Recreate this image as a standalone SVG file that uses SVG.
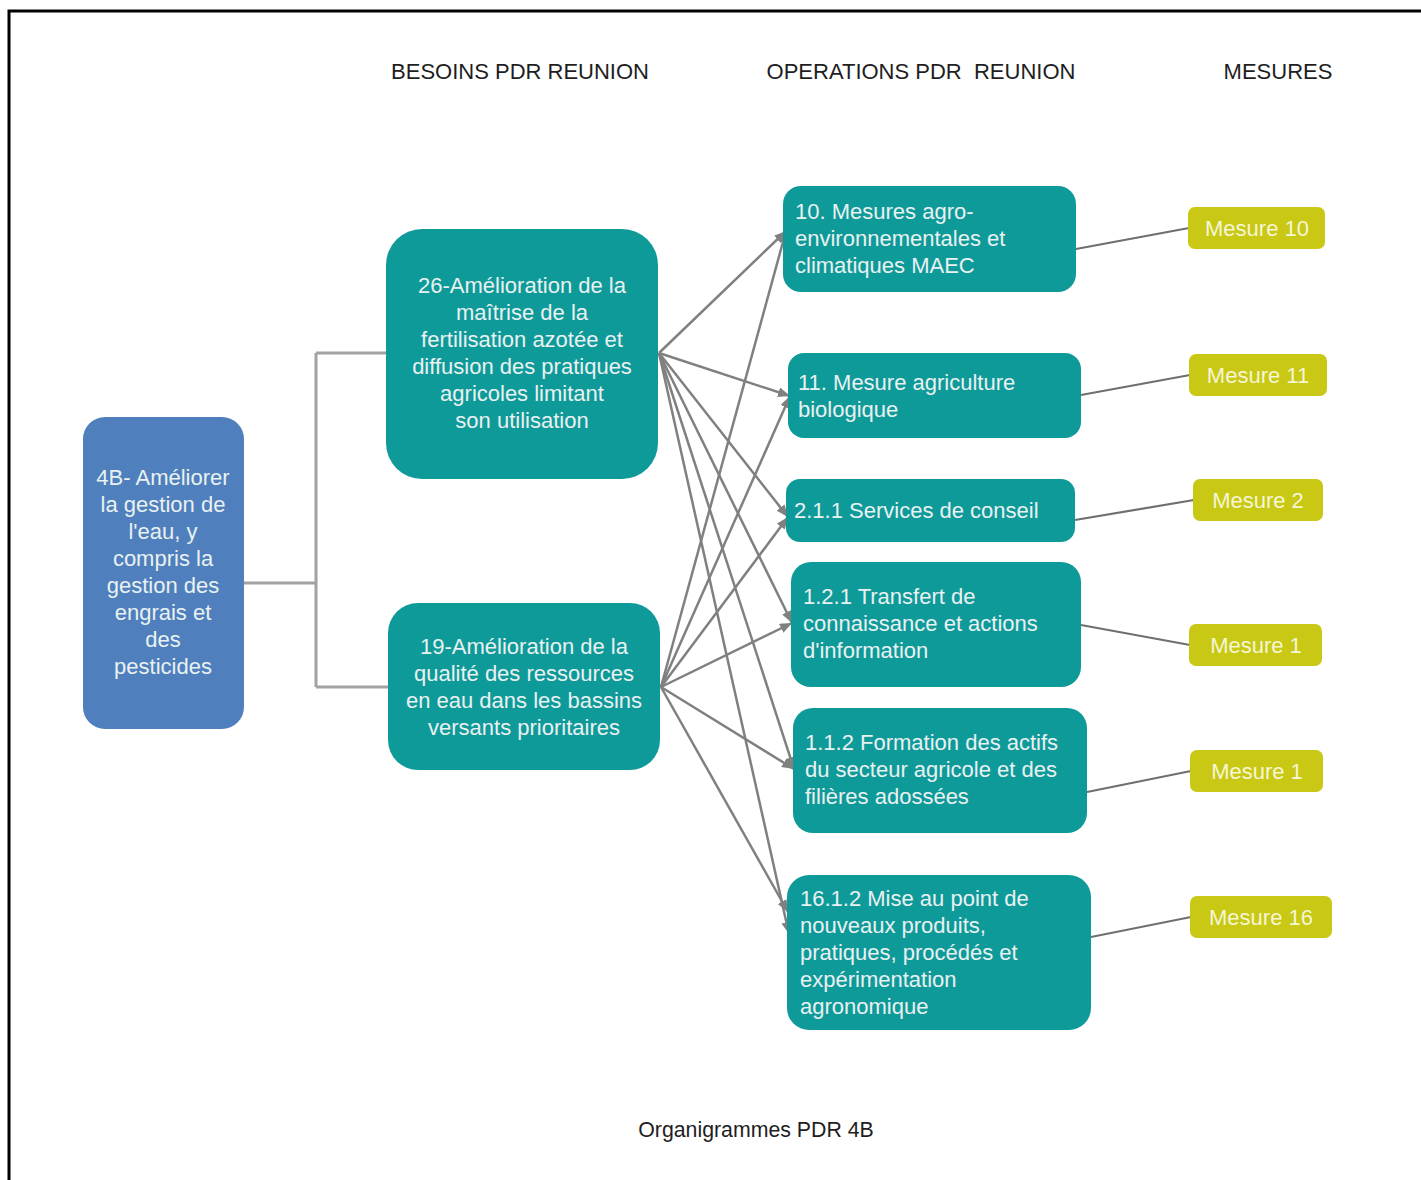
<svg xmlns="http://www.w3.org/2000/svg" width="1421" height="1180" viewBox="0 0 1421 1180">
  <style>
    .hdr { font-family: "Liberation Sans", Arial, sans-serif; font-size: 22px; fill: #1e1e1e; }
    .foot { font-family: "Liberation Sans", Arial, sans-serif; font-size: 21.3px; fill: #1e1e1e; }
    .goal { fill: #4f80bd; }
    .need { fill: #0f9a9a; }
    .op { fill: #0f9a9a; }
    .mes { fill: #c8c815; }
    .t { font-family: "Liberation Sans", Arial, sans-serif; font-size: 22px; fill: #e9f1f1; }
    .tm { font-family: "Liberation Sans", Arial, sans-serif; font-size: 22px; fill: #f6f6d6; text-anchor: middle; }
    .c { text-anchor: middle; }
    .bracket { fill: none; stroke: #a2a2a2; stroke-width: 3; }
    .arr { fill: none; stroke: #808080; stroke-width: 2.5; marker-end: url(#head); }
    .link { fill: none; stroke: #6f6f6f; stroke-width: 2.2; }
  </style>
  <defs>
    <marker id="head" markerUnits="userSpaceOnUse" markerWidth="13" markerHeight="11" refX="12" refY="5" orient="auto">
      <path d="M0,0 L12,5 L0,10 z" fill="#808080"/>
    </marker>
  </defs>

  <rect width="1421" height="1180" fill="#ffffff"/>
  <!-- page frame -->
  <rect x="9" y="11" width="1500" height="1300" fill="none" stroke="#000" stroke-width="3"/>

  <!-- column headings -->
  <text class="hdr" x="520" y="79" text-anchor="middle">BESOINS PDR REUNION</text>
  <text class="hdr" x="921" y="79" text-anchor="middle" xml:space="preserve">OPERATIONS PDR  REUNION</text>
  <text class="hdr" x="1278" y="79" text-anchor="middle">MESURES</text>

  <!-- connectors -->
  <g id="connectors">
    <path class="bracket" d="M244,583 H316 M316,353 V687 M316,353 H386 M316,687 H388"/>
    <!-- from need 26 -->
    <line class="arr" x1="659" y1="353" x2="786" y2="231"/>
    <line class="arr" x1="659" y1="353" x2="790" y2="396"/>
    <line class="arr" x1="659" y1="353" x2="788" y2="517"/>
    <line class="arr" x1="659" y1="353" x2="792" y2="623"/>
    <line class="arr" x1="659" y1="353" x2="794" y2="769"/>
    <line class="arr" x1="659" y1="353" x2="789" y2="934"/>
    <!-- from need 19 -->
    <line class="arr" x1="661" y1="687" x2="786" y2="231"/>
    <line class="arr" x1="661" y1="687" x2="790" y2="396"/>
    <line class="arr" x1="661" y1="687" x2="788" y2="517"/>
    <line class="arr" x1="661" y1="687" x2="792" y2="623"/>
    <line class="arr" x1="661" y1="687" x2="794" y2="769"/>
    <line class="arr" x1="661" y1="687" x2="788" y2="912"/>
    <!-- operations to measures -->
    <line class="link" x1="1076" y1="249" x2="1189" y2="228"/>
    <line class="link" x1="1081" y1="395" x2="1190" y2="375"/>
    <line class="link" x1="1075" y1="520" x2="1194" y2="500"/>
    <line class="link" x1="1081" y1="625" x2="1190" y2="645"/>
    <line class="link" x1="1087" y1="792" x2="1191" y2="771"/>
    <line class="link" x1="1091" y1="937" x2="1191" y2="917"/>
  </g>

  <!-- priority -->
  <g id="goal-4b">
    <rect class="goal" x="83" y="417" width="161" height="312" rx="22"/>
    <text class="t c" x="163" y="485">4B- Améliorer</text>
    <text class="t c" x="163" y="512">la gestion de</text>
    <text class="t c" x="163" y="539">l'eau, y</text>
    <text class="t c" x="163" y="566">compris la</text>
    <text class="t c" x="163" y="593">gestion des</text>
    <text class="t c" x="163" y="620">engrais et</text>
    <text class="t c" x="163" y="647">des</text>
    <text class="t c" x="163" y="674">pesticides</text>
  </g>

  <!-- needs -->
  <g id="need-26">
    <rect class="need" x="386" y="229" width="272" height="250" rx="36"/>
    <text class="t c" x="522" y="293">26-Amélioration de la</text>
    <text class="t c" x="522" y="320">maîtrise de la</text>
    <text class="t c" x="522" y="347">fertilisation azotée et</text>
    <text class="t c" x="522" y="374">diffusion des pratiques</text>
    <text class="t c" x="522" y="401">agricoles limitant</text>
    <text class="t c" x="522" y="428">son utilisation</text>
  </g>
  <g id="need-19">
    <rect class="need" x="388" y="603" width="272" height="167" rx="30"/>
    <text class="t c" x="524" y="654">19-Amélioration de la</text>
    <text class="t c" x="524" y="681">qualité des ressources</text>
    <text class="t c" x="524" y="708">en eau dans les bassins</text>
    <text class="t c" x="524" y="735">versants prioritaires</text>
  </g>

  <!-- operations -->
  <g id="op-10">
    <rect class="op" x="783" y="186" width="293" height="106" rx="18"/>
    <text class="t" x="795" y="219">10. Mesures agro-</text>
    <text class="t" x="795" y="246">environnementales et</text>
    <text class="t" x="795" y="273">climatiques MAEC</text>
  </g>
  <g id="op-11">
    <rect class="op" x="788" y="353" width="293" height="85" rx="16"/>
    <text class="t" x="798" y="390">11. Mesure agriculture</text>
    <text class="t" x="798" y="417">biologique</text>
  </g>
  <g id="op-2-1-1">
    <rect class="op" x="786" y="479" width="289" height="63" rx="14"/>
    <text class="t" x="794" y="518">2.1.1 Services de conseil</text>
  </g>
  <g id="op-1-2-1">
    <rect class="op" x="791" y="562" width="290" height="125" rx="20"/>
    <text class="t" x="803" y="604">1.2.1 Transfert de</text>
    <text class="t" x="803" y="631">connaissance et actions</text>
    <text class="t" x="803" y="658">d'information</text>
  </g>
  <g id="op-1-1-2">
    <rect class="op" x="793" y="708" width="294" height="125" rx="20"/>
    <text class="t" x="805" y="750">1.1.2 Formation des actifs</text>
    <text class="t" x="805" y="777">du secteur agricole et des</text>
    <text class="t" x="805" y="804">filières adossées</text>
  </g>
  <g id="op-16-1-2">
    <rect class="op" x="787" y="875" width="304" height="155" rx="22"/>
    <text class="t" x="800" y="906">16.1.2 Mise au point de</text>
    <text class="t" x="800" y="933">nouveaux produits,</text>
    <text class="t" x="800" y="960">pratiques, procédés et</text>
    <text class="t" x="800" y="987">expérimentation</text>
    <text class="t" x="800" y="1014">agronomique</text>
  </g>

  <!-- measures -->
  <g id="mesure-10">
    <rect class="mes" x="1188" y="207" width="137" height="42" rx="7"/>
    <text class="tm" x="1257" y="236">Mesure 10</text>
  </g>
  <g id="mesure-11">
    <rect class="mes" x="1189" y="354" width="138" height="42" rx="7"/>
    <text class="tm" x="1258" y="383">Mesure 11</text>
  </g>
  <g id="mesure-2">
    <rect class="mes" x="1193" y="479" width="130" height="42" rx="7"/>
    <text class="tm" x="1258" y="508">Mesure 2</text>
  </g>
  <g id="mesure-1a">
    <rect class="mes" x="1189" y="624" width="133" height="42" rx="7"/>
    <text class="tm" x="1256" y="653">Mesure 1</text>
  </g>
  <g id="mesure-1b">
    <rect class="mes" x="1190" y="750" width="133" height="42" rx="7"/>
    <text class="tm" x="1257" y="779">Mesure 1</text>
  </g>
  <g id="mesure-16">
    <rect class="mes" x="1190" y="896" width="142" height="42" rx="7"/>
    <text class="tm" x="1261" y="925">Mesure 16</text>
  </g>

  <text class="foot" x="756" y="1137" text-anchor="middle">Organigrammes PDR 4B</text>
</svg>
